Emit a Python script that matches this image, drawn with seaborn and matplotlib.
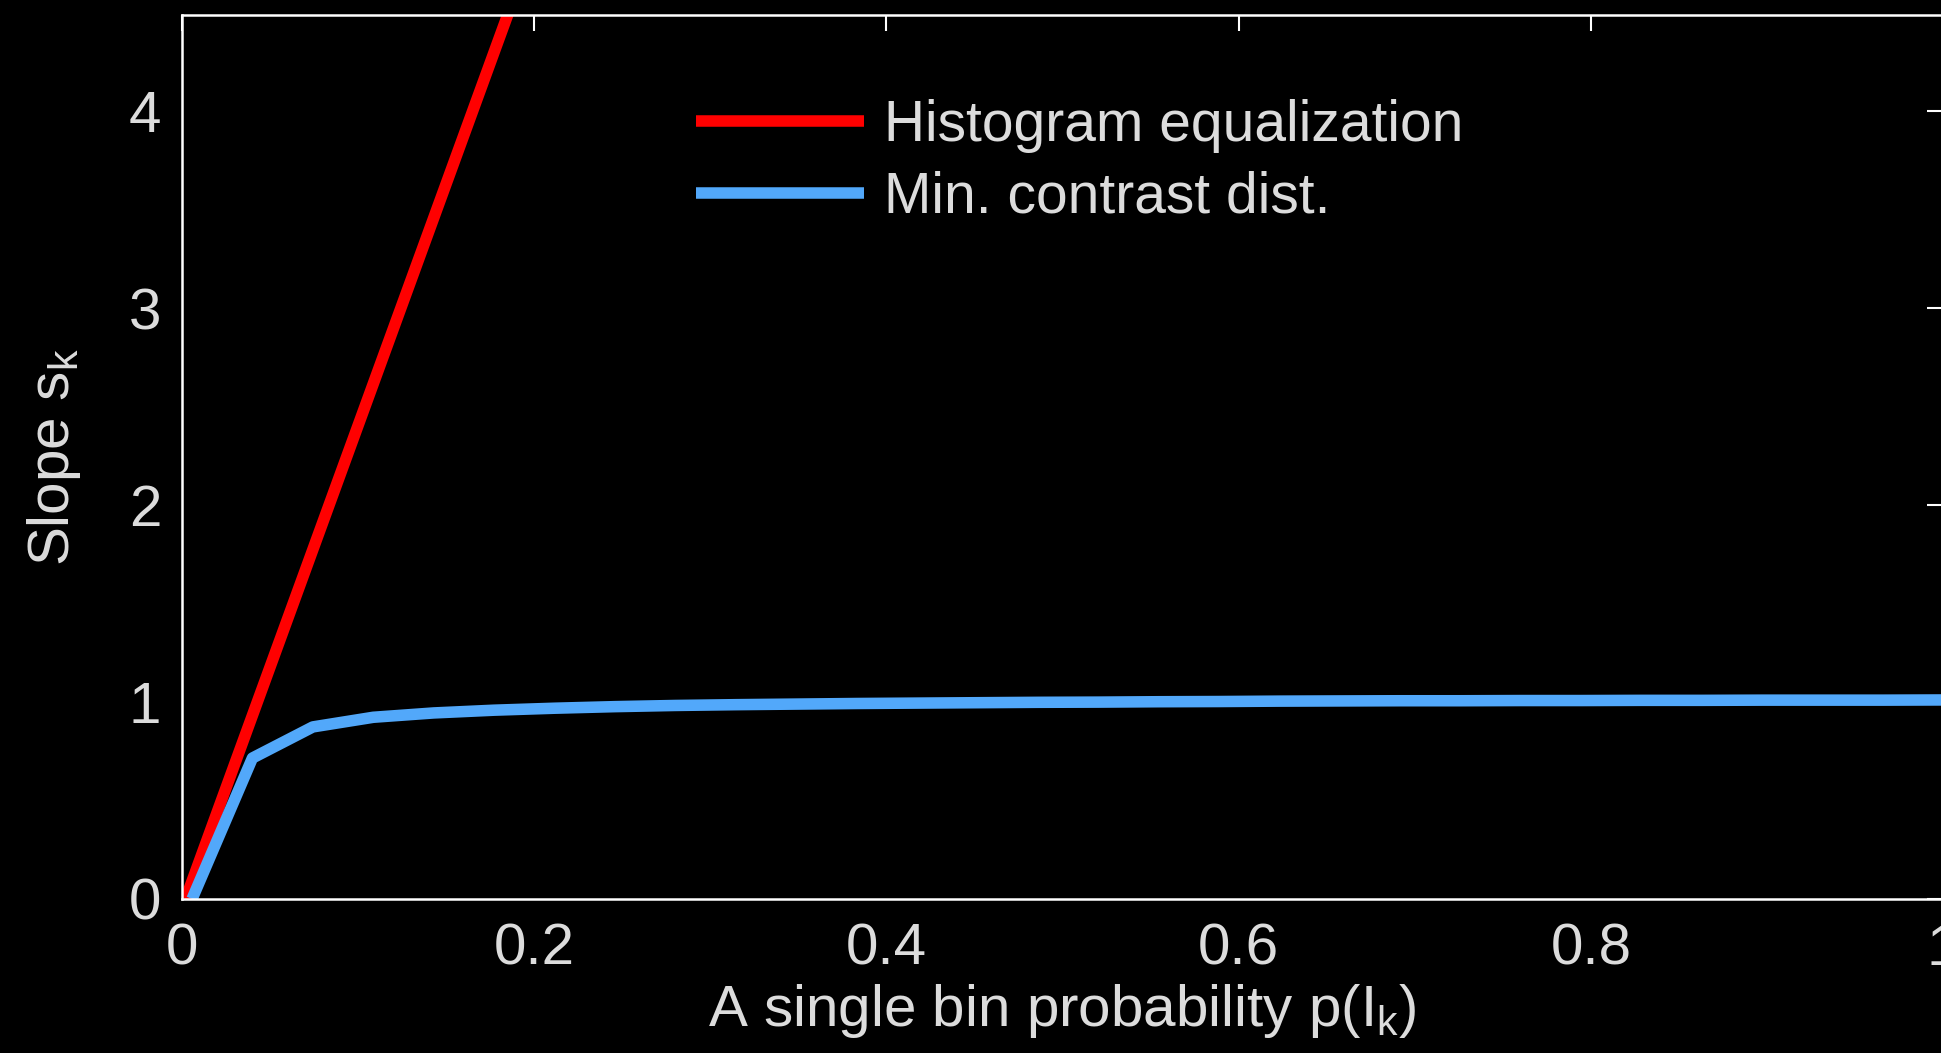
import matplotlib
matplotlib.use("Agg")
import matplotlib.pyplot as plt
import seaborn as sns
import pandas as pd

# ---- data ----
he_x = [0.002, 0.2]
he_y = [0.0, 4.86]

mcd_x = [0.0057, 0.040, 0.0743, 0.1086, 0.1429, 0.1772, 0.2115, 0.2458,
         0.2801, 0.3144, 0.3487, 0.3830, 0.4173, 0.4516, 0.4859, 0.5202,
         0.5545, 0.5888, 0.6231, 0.6574, 0.6917, 0.7260, 0.7603, 0.7946,
         0.8289, 0.8632, 0.8975, 0.9318, 0.9661, 1.0]
mcd_y = [0.0, 0.716, 0.874, 0.923, 0.945, 0.959, 0.969, 0.977,
         0.983, 0.987, 0.990, 0.993, 0.995, 0.997, 0.999, 1.000,
         1.002, 1.003, 1.005, 1.006, 1.007, 1.007, 1.008, 1.008,
         1.009, 1.009, 1.010, 1.010, 1.010, 1.011]

series_labels = ["Histogram equalization", "Min. contrast dist."]
x_ticks = [0, 0.2, 0.4, 0.6, 0.8, 1]
x_tick_labels = ["0", "0.2", "0.4", "0.6", "0.8", "1"]
y_ticks = [0, 1, 2, 3, 4]
y_tick_labels = ["0", "1", "2", "3", "4"]

# ---- style ----
sns.set_style("dark")
TXT = "#dcdcdc"
plt.rcParams.update({
    "font.family": ["Liberation Sans", "DejaVu Sans"],
    "mathtext.default": "regular",
    "mathtext.fontset": "custom",
    "mathtext.rm": "Liberation Sans",
    "mathtext.it": "Liberation Sans",
    "figure.facecolor": "black",
    "axes.facecolor": "black",
    "savefig.facecolor": "black",
    "axes.grid": False,
    "text.color": TXT,
    "axes.labelcolor": TXT,
    "xtick.color": TXT,
    "ytick.color": TXT,
})

fig = plt.figure(figsize=(19.41, 10.53), dpi=100)
ax = fig.add_axes([182 / 1941, 1 - 899 / 1053, 1761 / 1941, (899 - 15) / 1053])

df_he = pd.DataFrame({"x": he_x, "y": he_y})
df_mcd = pd.DataFrame({"x": mcd_x, "y": mcd_y})

sns.lineplot(data=df_he, x="x", y="y", ax=ax, color="#ff0000", lw=8.3,
             label=series_labels[0], solid_capstyle="butt", sort=False)
sns.lineplot(data=df_mcd, x="x", y="y", ax=ax, color="#52a8fa", lw=8.3,
             label=series_labels[1], solid_capstyle="butt", sort=False)

ax.set_xlim(0, 1)
ax.set_ylim(0, 4.49)
ax.set_xticks(x_ticks)
ax.set_xticklabels(x_tick_labels)
ax.set_yticks(y_ticks)
ax.set_yticklabels(y_tick_labels)

for s in ax.spines.values():
    s.set_visible(True)
    s.set_color("white")
    s.set_linewidth(1.8)

ax.tick_params(axis="both", which="major", direction="in", length=11.5,
               width=1.5, colors="white", labelcolor=TXT, labelsize=42,
               top=True, right=True, pad=15)
ax.tick_params(axis="x", pad=17)

ax.set_xlabel("A single bin probability p(I$_k$)", fontsize=42, color=TXT)
ax.set_ylabel("Slope s$_k$", fontsize=42, color=TXT)
ax.xaxis.set_label_coords(0.5, -0.094)
ax.yaxis.set_label_coords(-0.056, 0.5)

leg = ax.legend(loc="upper left", bbox_to_anchor=(0.292, 0.905), frameon=False,
                fontsize=41, handlelength=2.95, handletextpad=0.34,
                labelspacing=0.31, borderpad=0, borderaxespad=0)
for t in leg.get_texts():
    t.set_color(TXT)

fig.savefig("out.png", dpi=100, facecolor="black")
